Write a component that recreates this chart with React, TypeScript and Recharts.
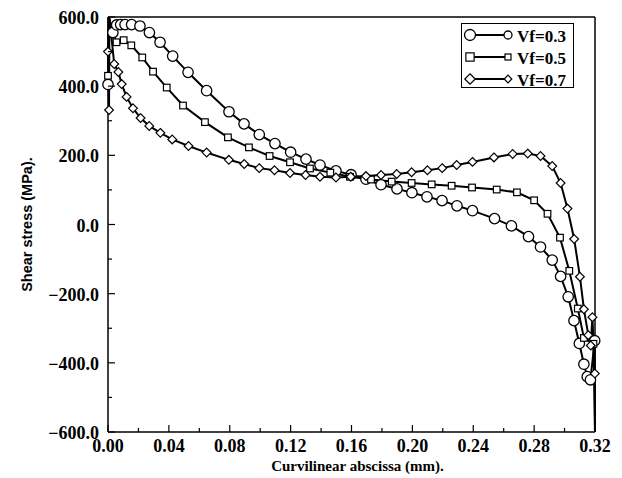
import React from 'react';
import { LineChart, Line, XAxis, YAxis, Legend } from 'recharts';

// ---------- data ----------
const seriesNames = ['Vf=0.3', 'Vf=0.5', 'Vf=0.7'];
const seriesShapes = ['circle', 'square', 'diamond'];

const vf03X = [0, 0.0005, 0.0032, 0.0057, 0.0083, 0.0112, 0.0155, 0.021, 0.0272, 0.0342, 0.0425, 0.0526, 0.0648, 0.0795, 0.0894, 0.0994, 0.1097, 0.12, 0.1301, 0.1393, 0.1498, 0.1597, 0.1695, 0.1794, 0.1899, 0.1997, 0.2096, 0.2195, 0.2293, 0.2395, 0.254, 0.2651, 0.2763, 0.2842, 0.2919, 0.2974, 0.3024, 0.3062, 0.3097, 0.3127, 0.3149, 0.317, 0.3198, 0.32];
const vf03Y = [405, 600, 555, 577, 578, 578, 578, 574, 555, 527, 487, 440, 387, 326, 291, 260, 234, 209, 189, 172, 155, 144, 131, 115, 103, 92, 80, 69, 54, 40, 17, -4, -35, -65, -103, -150, -209, -278, -344, -404, -440, -449, -336, -600];

const vf05X = [0, 0.0004, 0.0056, 0.0103, 0.0153, 0.0225, 0.0296, 0.0386, 0.0493, 0.0637, 0.0788, 0.0926, 0.1062, 0.1196, 0.1327, 0.1461, 0.159, 0.1728, 0.1864, 0.1995, 0.2127, 0.2258, 0.2392, 0.2554, 0.2687, 0.28, 0.2888, 0.297, 0.3031, 0.3087, 0.3127, 0.319, 0.32];
const vf05Y = [430, 600, 527, 533, 518, 483, 442, 396, 344, 296, 252, 223, 198, 180, 162, 150, 138, 130, 124, 120, 116, 112, 107, 101, 93, 70, 31, -38, -134, -243, -328, -345, -600];

const vf07X = [0, 0.0007, 0.0009, 0.0041, 0.0068, 0.009, 0.0122, 0.0164, 0.0214, 0.0271, 0.0344, 0.0422, 0.0529, 0.0648, 0.0794, 0.0895, 0.0994, 0.1094, 0.1196, 0.1298, 0.1393, 0.1498, 0.1595, 0.1695, 0.1794, 0.1897, 0.1995, 0.2099, 0.2196, 0.2291, 0.2395, 0.2536, 0.2659, 0.2758, 0.2842, 0.2919, 0.2974, 0.3019, 0.3063, 0.3101, 0.3127, 0.3156, 0.3172, 0.3183, 0.3199, 0.32];
const vf07Y = [500, 331, 600, 464, 441, 406, 369, 336, 308, 285, 265, 246, 227, 208, 187, 175, 163, 157, 149, 143, 138, 136, 138, 140, 143, 146, 151, 157, 163, 172, 181, 194, 204, 205, 198, 169, 120, 46, -42, -151, -245, -320, -350, -268, -431, -600];

const xTicks = [0, 0.02, 0.04, 0.06, 0.08, 0.1, 0.12, 0.14, 0.16, 0.18, 0.2, 0.22, 0.24, 0.26, 0.28, 0.3, 0.32];
const yTicks = [-600, -500, -400, -300, -200, -100, 0, 100, 200, 300, 400, 500, 600];
const xDomain = [0, 0.32];
const yDomain = [-600, 600];

const xLabel = 'Curvilinear abscissa (mm).';
const yLabel = 'Shear stress (MPa).';

// ---------- layout ----------
const W = 622;
const H = 478;
const LEFT = 108;
const RIGHT = 595;
const TOP = 17;
const BOTTOM = 432;
const SERIF = '"Liberation Serif", "Times New Roman", serif';
const SANS = '"Liberation Sans", Arial, sans-serif';

const toPoints = (xs: number[], ys: number[]) => xs.map((x, i) => ({ x, y: ys[i] }));
const seriesData = [toPoints(vf03X, vf03Y), toPoints(vf05X, vf05Y), toPoints(vf07X, vf07Y)];

const Marker = ({ shape, cx, cy, size }: { shape: string; cx: number; cy: number; size: number }) => {
  if (shape === 'circle') {
    return <circle cx={cx} cy={cy} r={size} fill="#fff" stroke="#000" strokeWidth={1.3} />;
  }
  if (shape === 'square') {
    const s = size * 0.75;
    return <rect x={cx - s} y={cy - s} width={2 * s} height={2 * s} fill="#fff" stroke="#000" strokeWidth={1.2} />;
  }
  const d = size * 0.95;
  return (
    <polygon
      points={`${cx},${cy - d} ${cx + d},${cy} ${cx},${cy + d} ${cx - d},${cy}`}
      fill="#fff"
      stroke="#000"
      strokeWidth={1.2}
    />
  );
};

const makeDot = (shape: string, size: number) => (props: any) => {
  const { cx, cy, payload, index } = props;
  if (cx == null || cy == null || Math.abs(payload.y) >= 600) return <g key={`d${index}`} />;
  return (
    <g key={`d${index}`}>
      <Marker shape={shape} cx={cx} cy={cy} size={size} />
    </g>
  );
};

const fmtY = (v: number) => (v < 0 ? '\u2212' + Math.abs(v).toFixed(1) : v.toFixed(1));

const LeftTick = (props: any) => {
  const { y, payload } = props;
  const v = payload.value;
  const major = Math.round(v) % 200 === 0;
  return (
    <g>
      <line x1={LEFT} x2={LEFT + (major ? 7 : 4)} y1={y} y2={y} stroke="#000" strokeWidth={1.2} />
      {major && (
        <text x={LEFT - 9} y={y + 1} textAnchor="end" dominantBaseline="central" fontFamily={SERIF} fontSize={18} fontWeight="bold" fill="#000">
          {fmtY(v)}
        </text>
      )}
    </g>
  );
};

const RightTick = (props: any) => {
  const { y, payload } = props;
  const major = Math.round(payload.value) % 200 === 0;
  return <line x1={RIGHT} x2={RIGHT - (major ? 7 : 4)} y1={y} y2={y} stroke="#000" strokeWidth={1.2} />;
};

const BottomTick = (props: any) => {
  const { x, payload } = props;
  const v = payload.value;
  const major = Math.round(v * 100) % 4 === 0;
  return (
    <g>
      <line x1={x} x2={x} y1={BOTTOM} y2={BOTTOM - (major ? 7 : 4)} stroke="#000" strokeWidth={1.2} />
      {major && (
        <text x={x} y={446} textAnchor="middle" dominantBaseline="central" fontFamily={SERIF} fontSize={18} fontWeight="bold" fill="#000">
          {v.toFixed(2)}
        </text>
      )}
    </g>
  );
};

const TopTick = (props: any) => {
  const { x, payload } = props;
  const major = Math.round(payload.value * 100) % 4 === 0;
  return <line x1={x} x2={x} y1={TOP} y2={TOP + (major ? 7 : 4)} stroke="#000" strokeWidth={1.2} />;
};

const renderLegend = () => (
  <svg width={114} height={66} style={{ display: 'block' }}>
    <rect x={0.5} y={0.5} width={112} height={64} fill="#fff" stroke="#000" strokeWidth={1} />
    {seriesNames.map((name, i) => {
      const cy = 12 + i * 22;
      return (
        <g key={name}>
          <line x1={9} x2={47} y1={cy} y2={cy} stroke="#000" strokeWidth={2} />
          <Marker shape={seriesShapes[i]} cx={9} cy={cy} size={5.5} />
          <Marker shape={seriesShapes[i]} cx={47} cy={cy} size={4} />
          <text x={56} y={cy + 1} dominantBaseline="central" fontFamily={SERIF} fontSize={17} fontWeight="bold" fill="#000">
            {name}
          </text>
        </g>
      );
    })}
  </svg>
);

const XLabel = (props: any) => {
  const vb = props.viewBox || { x: LEFT, y: BOTTOM, width: RIGHT - LEFT };
  return (
    <text x={vb.x + vb.width / 2 + 6} y={471} textAnchor="middle" fontFamily={SERIF} fontSize={15} fontWeight="bold" fill="#000">
      {xLabel}
    </text>
  );
};

const YLabel = (props: any) => {
  const vb = props.viewBox || { x: 0, y: TOP, height: BOTTOM - TOP };
  const cx = 27;
  const cy = vb.y + vb.height / 2;
  return (
    <text
      x={cx}
      y={cy}
      transform={`rotate(-90, ${cx}, ${cy})`}
      textAnchor="middle"
      dominantBaseline="central"
      fontFamily={SANS}
      fontSize={14.5}
      fontWeight="bold"
      fill="#000"
    >
      {yLabel}
    </text>
  );
};

export default function App() {
  return (
    <div style={{ position: 'absolute', left: 0, top: 0, width: W, height: H, background: '#fff' }}>
      <LineChart width={W} height={H} margin={{ top: 0, right: 0, bottom: 0, left: 0 }}>
        <XAxis
          xAxisId="bottom"
          dataKey="x"
          type="number"
          domain={xDomain}
          ticks={xTicks}
          interval={0}
          height={H - BOTTOM}
          axisLine={{ stroke: '#000', strokeWidth: 1.5 }}
          tickLine={false}
          tick={<BottomTick />}
          label={<XLabel />}
        />
        <XAxis
          xAxisId="top"
          orientation="top"
          dataKey="x"
          type="number"
          domain={xDomain}
          ticks={xTicks}
          interval={0}
          height={TOP}
          axisLine={{ stroke: '#000', strokeWidth: 1.5 }}
          tickLine={false}
          tick={<TopTick />}
        />
        <YAxis
          yAxisId="left"
          type="number"
          domain={yDomain}
          ticks={yTicks}
          interval={0}
          width={LEFT}
          axisLine={{ stroke: '#000', strokeWidth: 1.5 }}
          tickLine={false}
          tick={<LeftTick />}
          label={<YLabel />}
        />
        <YAxis
          yAxisId="right"
          orientation="right"
          type="number"
          domain={yDomain}
          ticks={yTicks}
          interval={0}
          width={W - RIGHT}
          axisLine={{ stroke: '#000', strokeWidth: 1.5 }}
          tickLine={false}
          tick={<RightTick />}
        />
        <Legend
          layout="vertical"
          align="center"
          verticalAlign="middle"
          content={renderLegend}
          wrapperStyle={{ position: 'absolute', left: 461, top: 23, width: 114, height: 66 }}
        />
        {seriesData.map((data, i) => (
          <Line
            key={seriesNames[i]}
            name={seriesNames[i]}
            data={data}
            dataKey="y"
            xAxisId="bottom"
            yAxisId="left"
            type="linear"
            stroke="#000"
            strokeWidth={2}
            dot={makeDot(seriesShapes[i], seriesShapes[i] === 'circle' ? 5.2 : seriesShapes[i] === 'square' ? 4.4 : 4.6)}
            activeDot={false}
            isAnimationActive={false}
          />
        ))}
      </LineChart>
    </div>
  );
}
